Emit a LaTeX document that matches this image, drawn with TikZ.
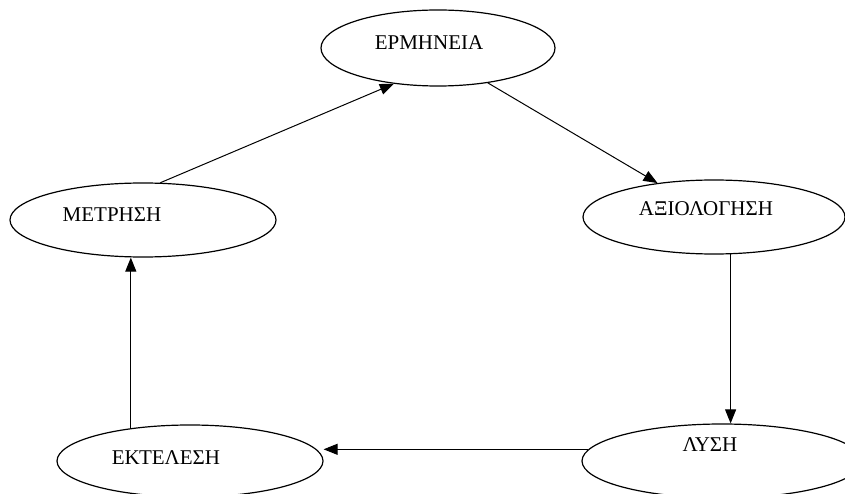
\documentclass[tikz,border=0pt]{standalone}
\usepackage{fontspec}
\setmainfont{Liberation Serif}
\usetikzlibrary{shapes.geometric,arrows.meta,calc}
\begin{document}
\begin{tikzpicture}[x=1pt,y=1pt,
  oval/.style={draw,ellipse,inner sep=0pt,line width=1.2pt},
  lbl/.style={inner sep=0pt,font=\fontsize{21}{23}\selectfont},
  arr/.style={line width=1pt,-{Triangle[length=14pt,width=11pt]}}]
\useasboundingbox (0,0) rectangle (845,493);
\begin{scope}
\clip (0,0) rectangle (845,493);
\node[oval,minimum width=234pt,minimum height=76pt] (e) at (438,445) {};
\node[oval,minimum width=266pt,minimum height=74pt] (m) at (143,273) {};
\node[oval,minimum width=262pt,minimum height=74pt] (a) at (714,276) {};
\node[oval,minimum width=266pt,minimum height=72pt] (k) at (190,32) {};
\node[oval,minimum width=280pt,minimum height=74pt] (l) at (722,32) {};
\end{scope}
\node[lbl] (te) at ($(e.center)+(-9,5)$) {ΕΡΜΗΝΕΙΑ};
\node[lbl] (tm) at ($(m.center)+(-31,5)$) {ΜΕΤΡΗΣΗ};
\node[lbl] (ta) at ($(a.center)+(-8,8)$) {ΑΞΙΟΛΟΓΗΣΗ};
\node[lbl] (tk) at ($(k.center)+(-24,3)$) {ΕΚΤΕΛΕΣΗ};
\node[lbl] (tl) at ($(l.center)+(-12,16)$) {ΛΥΣΗ};
\draw[arr] (m.65) -- (e.219);
\draw[arr] (e.-35.4) -- (a.149.2);
\draw[arr] (a.-66.6) -- (a.-66.6 |- l.north);
\draw[arr] (l.175.3) -- (l.175.3 -| k.east);
\draw[arr] (k.151.8) -- (k.151.8 |- m.south);
\end{tikzpicture}
\end{document}
